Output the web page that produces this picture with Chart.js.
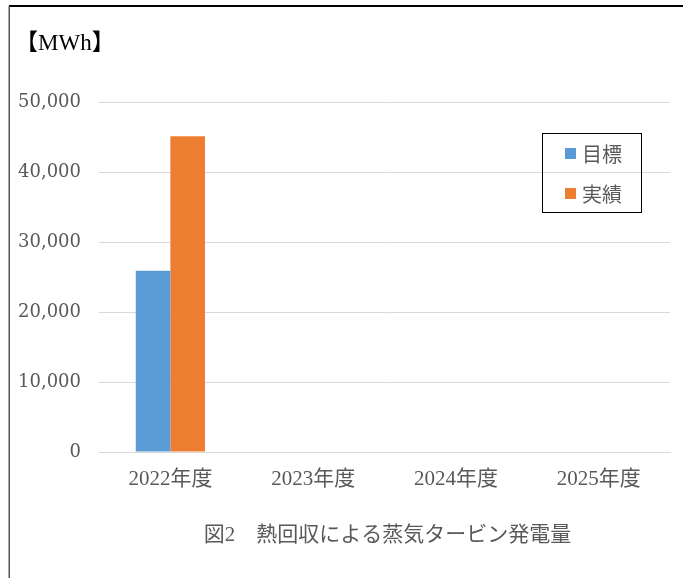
<!DOCTYPE html>
<html>
<head>
<meta charset="utf-8">
<script src="https://cdn.jsdelivr.net/npm/chart.js@4/dist/chart.umd.min.js"></script>
<style>
html,body{margin:0;padding:0;background:#fff;}
#wrap{width:683px;height:578px;position:relative;}
</style>
</head>
<body>
<div id="wrap"><canvas id="c" width="683" height="578"></canvas></div>
<script>
const categories = ['2022年度', '2023年度', '2024年度', '2025年度'];
const seriesNames = ['目標', '実績'];
const targetValues = [25900, null, null, null];
const actualValues = [45100, null, null, null];
const yTicks = [0, 10000, 20000, 30000, 40000, 50000];
const unitLabel = '【MWh】';
const chartTitle = '図2　熱回収による蒸気タービン発電量';

const GRAY = '#595959';

const framePlugin = {
  id: 'frame',
  beforeDraw(chart) {
    const ctx = chart.ctx;
    ctx.save();
    ctx.fillStyle = '#fff';
    ctx.fillRect(0, 0, chart.width, chart.height);
    ctx.restore();
  },
  afterDraw(chart) {
    const ctx = chart.ctx;
    const area = chart.chartArea;
    ctx.save();
    // frame lines
    ctx.strokeStyle = '#000';
    ctx.lineWidth = 2;
    ctx.beginPath();
    ctx.moveTo(9, 6);
    ctx.lineTo(683, 6);
    ctx.stroke();
    ctx.strokeStyle = '#555';
    ctx.lineWidth = 1.5;
    ctx.beginPath();
    ctx.moveTo(9.25, 6);
    ctx.lineTo(9.25, 578);
    ctx.stroke();
    // unit label
    ctx.fillStyle = '#000';
    ctx.font = "23px 'Liberation Serif', 'Noto Sans CJK JP'";
    ctx.textBaseline = 'middle';
    ctx.textAlign = 'left';
    ctx.fillText(unitLabel, 15, 44);
    // chart title (centered on plot area)
    ctx.fillStyle = GRAY;
    ctx.font = "21px 'Liberation Serif', 'Noto Sans CJK JP'";
    ctx.textAlign = 'center';
    ctx.fillText(chartTitle, (area.left + area.right) / 2 + 3, 535);
    // legend box
    ctx.textAlign = 'left';
    ctx.strokeStyle = '#000';
    ctx.lineWidth = 1;
    ctx.strokeRect(542.5, 133.5, 99, 79);
    ctx.font = "20px 'Noto Sans CJK JP'";
    const rows = [153, 193];
    chart.data.datasets.forEach((ds, i) => {
      ctx.fillStyle = ds.backgroundColor;
      ctx.fillRect(565, rows[i] - 5, 11, 11);
      ctx.fillStyle = GRAY;
      ctx.fillText(ds.label, 582, rows[i] + 1);
    });
    ctx.restore();
  }
};

new Chart(document.getElementById('c'), {
  type: 'bar',
  data: {
    labels: categories,
    datasets: [
      { label: seriesNames[0], data: targetValues, backgroundColor: '#5b9bd5', borderWidth: 0 },
      { label: seriesNames[1], data: actualValues, backgroundColor: '#ed7d31', borderWidth: 0 }
    ]
  },
  options: {
    responsive: false,
    animation: false,
    events: [],
    layout: { padding: { left: 0, right: 13, top: 102, bottom: 66 } },
    datasets: { bar: { categoryPercentage: 0.485, barPercentage: 1.0 } },
    plugins: {
      legend: { display: false },
      tooltip: { enabled: false },
      title: { display: false }
    },
    scales: {
      x: {
        grid: { display: false, drawTicks: false },
        border: { display: true, color: '#d9d9d9', width: 1 },
        ticks: {
          color: GRAY,
          padding: 15,
          maxRotation: 0,
          autoSkip: false,
          font: { family: "'Liberation Serif', 'Noto Sans CJK JP'", size: 21 }
        },
        afterFit(scale) { scale.height = 60; }
      },
      y: {
        min: 0,
        max: 50000,
        afterBuildTicks(scale) { scale.ticks = yTicks.map(v => ({ value: v })); },
        grid: { color: '#d9d9d9', lineWidth: 1, drawTicks: false },
        border: { display: false },
        ticks: {
          color: GRAY,
          padding: 18,
          font: { family: "'DejaVu Serif'", size: 18 },
          callback: v => v.toLocaleString('en-US')
        },
        afterFit(scale) { scale.width = 99; }
      }
    }
  },
  plugins: [framePlugin]
});
</script>
</body>
</html>
